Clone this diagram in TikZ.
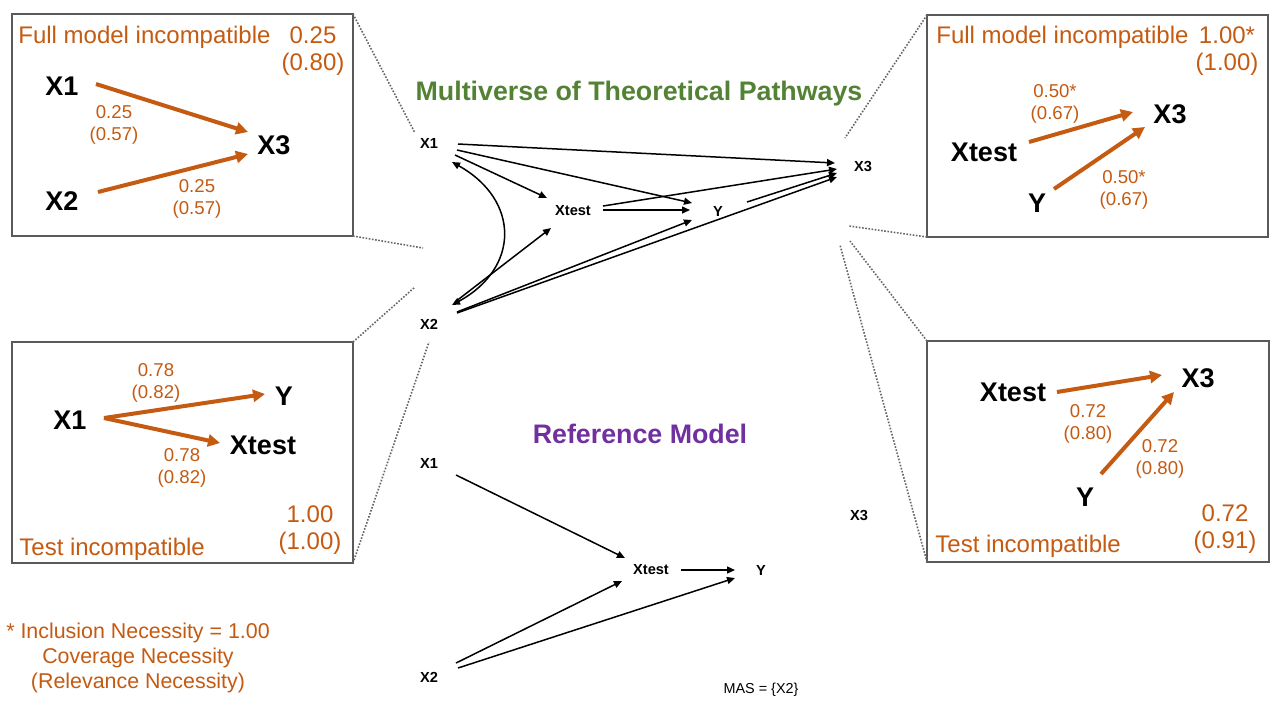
\documentclass[tikz,border=0pt]{standalone}
\usepackage{fontspec}
\setmainfont{Liberation Sans}
\usetikzlibrary{arrows.meta,calc}
\definecolor{orng}{HTML}{C55A11}
\definecolor{grn}{HTML}{548235}
\definecolor{prp}{HTML}{7030A0}
\definecolor{boxgray}{HTML}{595959}
\definecolor{dotgray}{HTML}{666666}
\tikzset{
  bvar/.style={font=\fontsize{13.5}{16}\selectfont\bfseries, inner sep=0pt},
  cvar/.style={font=\fontsize{7.3}{9}\selectfont\bfseries, inner sep=0pt},
  elab/.style={text=orng, font=\fontsize{9.3}{11}\selectfont, align=center, inner sep=0pt, yshift=-1.5pt},
  clab/.style={text=orng, font=\fontsize{12}{13.5}\selectfont, align=center, inner sep=0pt, yshift=-1.5pt},
  btitle/.style={text=orng, font=\fontsize{12}{14}\selectfont, anchor=west, inner sep=0pt, yshift=-1.2pt},
  oarr/.style={draw=orng, line width=2pt, -{Triangle[length=6pt,width=6pt]}},
  karr/.style={line width=0.75pt, -{Triangle[length=4pt,width=3.5pt]}},
  karrb/.style={line width=0.75pt, {Triangle[length=4pt,width=3.5pt]}-{Triangle[length=4pt,width=3.5pt]}},
  box/.style={draw=boxgray, line width=1pt, outer sep=0pt, inner sep=0pt},
  dotl/.style={draw=dotgray, line width=0.8pt, dash pattern=on 0.8pt off 0.8pt},
  ttl/.style={font=\fontsize{13.4}{16}\selectfont\bfseries, inner sep=0pt, yshift=-1.5pt},
}
\begin{document}
\begin{tikzpicture}[x=0.5pt,y=-0.5pt]
\useasboundingbox (0,0) rectangle (1280,720);
\fill[white] (0,0) rectangle (1280,720);

% ---------- boxes ----------
\node[box, minimum width=170.5pt, minimum height=111pt] (B1) at (182.5,125) {};
\node[box, minimum width=170.5pt, minimum height=111pt] (B2) at (1097.5,126) {};
\node[box, minimum width=170.5pt, minimum height=110.5pt] (B3) at (182.5,452.5) {};
\node[box, minimum width=171pt, minimum height=110.5pt] (B4) at (1098,451.5) {};

% ---------- box 1 ----------
\node[btitle] (t1) at (18,35) {Full model incompatible};
\node[clab] (c1) at (313,48) {0.25\\(0.80)};
\node[bvar] (b1x1) at (62,86) {X1};
\node[bvar] (b1x2) at (62,201) {X2};
\node[bvar] (b1x3) at (274,145) {X3};
\draw[oarr] ($(b1x1)+(34,-2)$) -- ($(b1x3)+(-26,-13)$);
\draw[oarr] ($(b1x2)+(36,-9)$) -- ($(b1x3)+(-26,9)$);
\node[elab] (l1a) at (114,122) {0.25\\(0.57)};
\node[elab] (l1b) at (197,196) {0.25\\(0.57)};

% ---------- box 2 ----------
\node[btitle] (t2) at (936,35) {Full model incompatible};
\node[clab] (c2) at (1227,48) {1.00*\\(1.00)};
\node[bvar] (b2x3) at (1170,114) {X3};
\node[bvar] (b2xt) at (984,152) {Xtest};
\node[bvar] (b2y) at (1037,203) {Y};
\draw[oarr] ($(b2xt)+(45,-10)$) -- ($(b2x3)+(-37,-2)$);
\draw[oarr] ($(b2y)+(17,-14)$) -- ($(b2x3)+(-25,13)$);
\node[elab] (l2a) at (1055,101) {0.50*\\(0.67)};
\node[elab] (l2b) at (1124,187) {0.50*\\(0.67)};

% ---------- box 3 ----------
\node[bvar] (b3x1) at (70,420) {X1};
\node[bvar] (b3y) at (284,396) {Y};
\node[bvar] (b3xt) at (263,445) {Xtest};
\draw[oarr] ($(b3x1)+(34,-2)$) -- ($(b3y)+(-19,-2)$);
\draw[oarr] ($(b3x1)+(34,-2)$) -- ($(b3xt)+(-43,-2)$);
\node[elab] (l3a) at (156,380) {0.78\\(0.82)};
\node[elab] (l3b) at (182,465) {0.78\\(0.82)};
\node[clab] (c3) at (310,527) {1.00\\(1.00)};
\node[btitle] (t3) at (19,547) {Test incompatible};

% ---------- box 4 ----------
\node[bvar] (b4xt) at (1013,392) {Xtest};
\node[bvar] (b4x3) at (1198,378) {X3};
\node[bvar] (b4y) at (1085,497) {Y};
\draw[oarr] ($(b4xt)+(44,0)$) -- ($(b4x3)+(-36,-3)$);
\draw[oarr] ($(b4y)+(16,-23)$) -- ($(b4x3)+(-24,14)$);
\node[elab] (l4a) at (1088,421) {0.72\\(0.80)};
\node[elab] (l4b) at (1160,456) {0.72\\(0.80)};
\node[clab] (c4) at (1225,526) {0.72\\(0.91)};
\node[btitle] (t4) at (935,544) {Test incompatible};

% ---------- titles ----------
\node[ttl, text=grn] (mt) at (639,91) {Multiverse of Theoretical Pathways};
\node[ttl, text=prp] (rt) at (640,431) {Reference Model};

% ---------- multiverse graph ----------
\node[cvar] (mX1) at (429,143) {X1};
\node[cvar] (mX2) at (429,324) {X2};
\node[cvar] (mXt) at (573,211) {Xtest};
\node[cvar] (mY) at (718,211) {Y};
\node[cvar] (mX3) at (863,166) {X3};
\draw[karr] ($(mX1)+(29,1)$) -- ($(mX3)+(-28,-3)$);
\draw[karr] ($(mX1)+(28,7)$) -- ($(mY)+(-26,-8)$);
\draw[karr] ($(mX1)+(26,12)$) -- ($(mXt)+(-26,-13)$);
\draw[karrb] ($(mX1)+(23,19)$) .. controls ($(mX1)+(91,57)$) and ($(mX2)+(91,-56)$) .. ($(mX2)+(23,-19)$);
\draw[karr] ($(mX2)+(26,-22)$) -- ($(mXt)+(-22,17)$);
\draw[karr] ($(mXt)+(30,-1)$) -- ($(mY)+(-28,-1)$);
\draw[karr] ($(mXt)+(30,-5)$) -- ($(mX3)+(-26,3)$);
\draw[karr] ($(mX2)+(28,-12)$) -- ($(mY)+(-26,9)$);
\draw[karr] ($(mX2)+(28,-11)$) -- ($(mX3)+(-26,11)$);
\draw[karr] ($(mY)+(29,-9)$) -- ($(mX3)+(-26,7)$);

% ---------- reference graph ----------
\node[cvar] (rX1) at (429,463) {X1};
\node[cvar] (rX2) at (429,677) {X2};
\node[cvar] (rXt) at (651,570) {Xtest};
\node[cvar] (rY) at (761,570) {Y};
\node[cvar] (rX3) at (859,515) {X3};
\draw[karr] ($(rX1)+(27,12)$) -- ($(rXt)+(-26,-12)$);
\draw[karr] ($(rXt)+(30,0)$) -- ($(rY)+(-26,0)$);
\draw[karr] ($(rX2)+(27,-14)$) -- ($(rXt)+(-29,11)$);
\draw[karr] ($(rX2)+(29,-9)$) -- ($(rY)+(-26,8)$);
\node[font=\fontsize{7.2}{9}\selectfont, inner sep=0pt, yshift=-1pt] (mas) at (761,688) {MAS = \{X2\}};

% ---------- dotted connectors ----------
\coordinate (d1) at (415,133);
\coordinate (d2) at (423,248);
\coordinate (d3) at (415,287);
\coordinate (d4) at (429,342);
\coordinate (d5) at (845,138);
\coordinate (d6) at (849,226);
\coordinate (d7) at (850,241);
\coordinate (d8) at (840,245);
\draw[dotl] (B1.north east) -- (d1);
\draw[dotl] (B1.south east) -- (d2);
\draw[dotl] (B3.north east) -- (d3);
\draw[dotl] (B3.south east) -- (d4);
\draw[dotl] (B2.north west) -- (d5);
\draw[dotl] (B2.south west) -- (d6);
\draw[dotl] (B4.north west) -- (d7);
\draw[dotl] (B4.south west) -- (d8);

% ---------- legend ----------
\node[text=orng, font=\fontsize{10.7}{12.5}\selectfont, align=center, inner sep=0pt, yshift=-1.5pt] (leg) at (138,655)
  {* Inclusion Necessity = 1.00\\Coverage Necessity\\(Relevance Necessity)};
\end{tikzpicture}
\end{document}
